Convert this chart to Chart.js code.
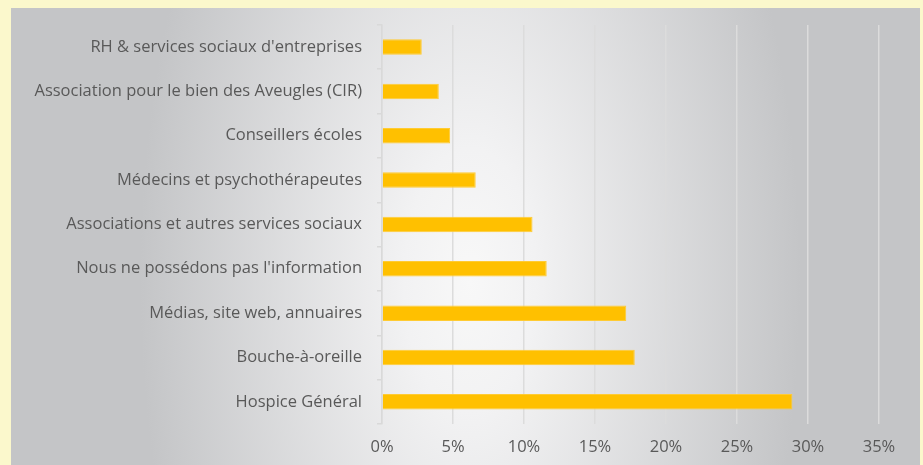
<!DOCTYPE html>
<html>
<head>
<meta charset="utf-8">
<script src="https://cdn.jsdelivr.net/npm/chart.js@4"></script>
<style>
  html, body { margin: 0; padding: 0; background: #FBF8CC; }
  #wrap { width: 923px; height: 465px; position: relative; }
</style>
</head>
<body>
<div id="wrap"><canvas id="chart" width="923" height="465"></canvas></div>
<script>
// categories, top to bottom
const categories = [
    "RH & services sociaux d'entreprises",
    'Association pour le bien des Aveugles (CIR)',
    'Conseillers écoles',
    'Médecins et psychothérapeutes',
    'Associations et autres services sociaux',
    "Nous ne possédons pas l'information",
    'Médias, site web, annuaires',
    'Bouche-à-oreille',
    'Hospice Général'
];
const shares = [2.8, 4.0, 4.8, 6.6, 10.6, 11.6, 17.2, 17.8, 28.9];
const xTicks = [0, 5, 10, 15, 20, 25, 30, 35];

const FONT = '"Open Sans", sans-serif';
const TEXT = '#595959';

// grey panel with a soft light centre behind the plot
const panelBg = {
    id: 'panelBg',
    beforeDraw(chart) {
        const ctx = chart.ctx;
        const cx = 470, cy = 280, k = 2;
        ctx.save();
        ctx.translate(cx, cy);
        ctx.scale(1, k);
        const g = ctx.createRadialGradient(0, 0, 0, 0, 0, 330);
        g.addColorStop(0, '#F8F8F8');
        g.addColorStop(0.2, '#F2F2F3');
        g.addColorStop(1, '#C4C5C7');
        ctx.fillStyle = g;
        ctx.fillRect(11 - cx, (8 - cy) / k, 909, (470 - 8) / k);
        ctx.restore();
    }
};

new Chart(document.getElementById('chart').getContext('2d'), {
    type: 'bar',
    data: {
        labels: categories,
        datasets: [{
            data: shares,
            backgroundColor: '#FFC000',
            borderColor: '#FFCB33',
            borderWidth: 1,
            barPercentage: 0.35,
            categoryPercentage: 1
        }]
    },
    options: {
        indexAxis: 'y',
        responsive: false,
        animation: false,
        layout: { padding: { top: 24, right: 44, bottom: 0, left: 0 } },
        plugins: { legend: { display: false }, tooltip: { enabled: false } },
        scales: {
            x: {
                min: 0,
                max: 35,
                afterBuildTicks(scale) { scale.ticks = xTicks.map(v => ({ value: v })); },
                afterFit(scale) { scale.height = 41; },
                grid: { color: '#DCDCDC', lineWidth: 1.5, drawTicks: false },
                border: { display: false },
                ticks: {
                    padding: 13,
                    color: TEXT,
                    font: { family: FONT, size: 16.5 },
                    callback: v => v + '%'
                }
            },
            y: {
                afterFit(scale) { scale.width = 382; },
                grid: { offset: true, drawOnChartArea: false, drawTicks: true, tickLength: 5, color: '#D9D9D9', lineWidth: 1.5 },
                border: { display: true, color: '#D9D9D9', width: 1.5 },
                ticks: {
                    padding: 15,
                    color: TEXT,
                    font: { family: FONT, size: 16.5 }
                }
            }
        }
    },
    plugins: [panelBg]
});
</script>
</body>
</html>
